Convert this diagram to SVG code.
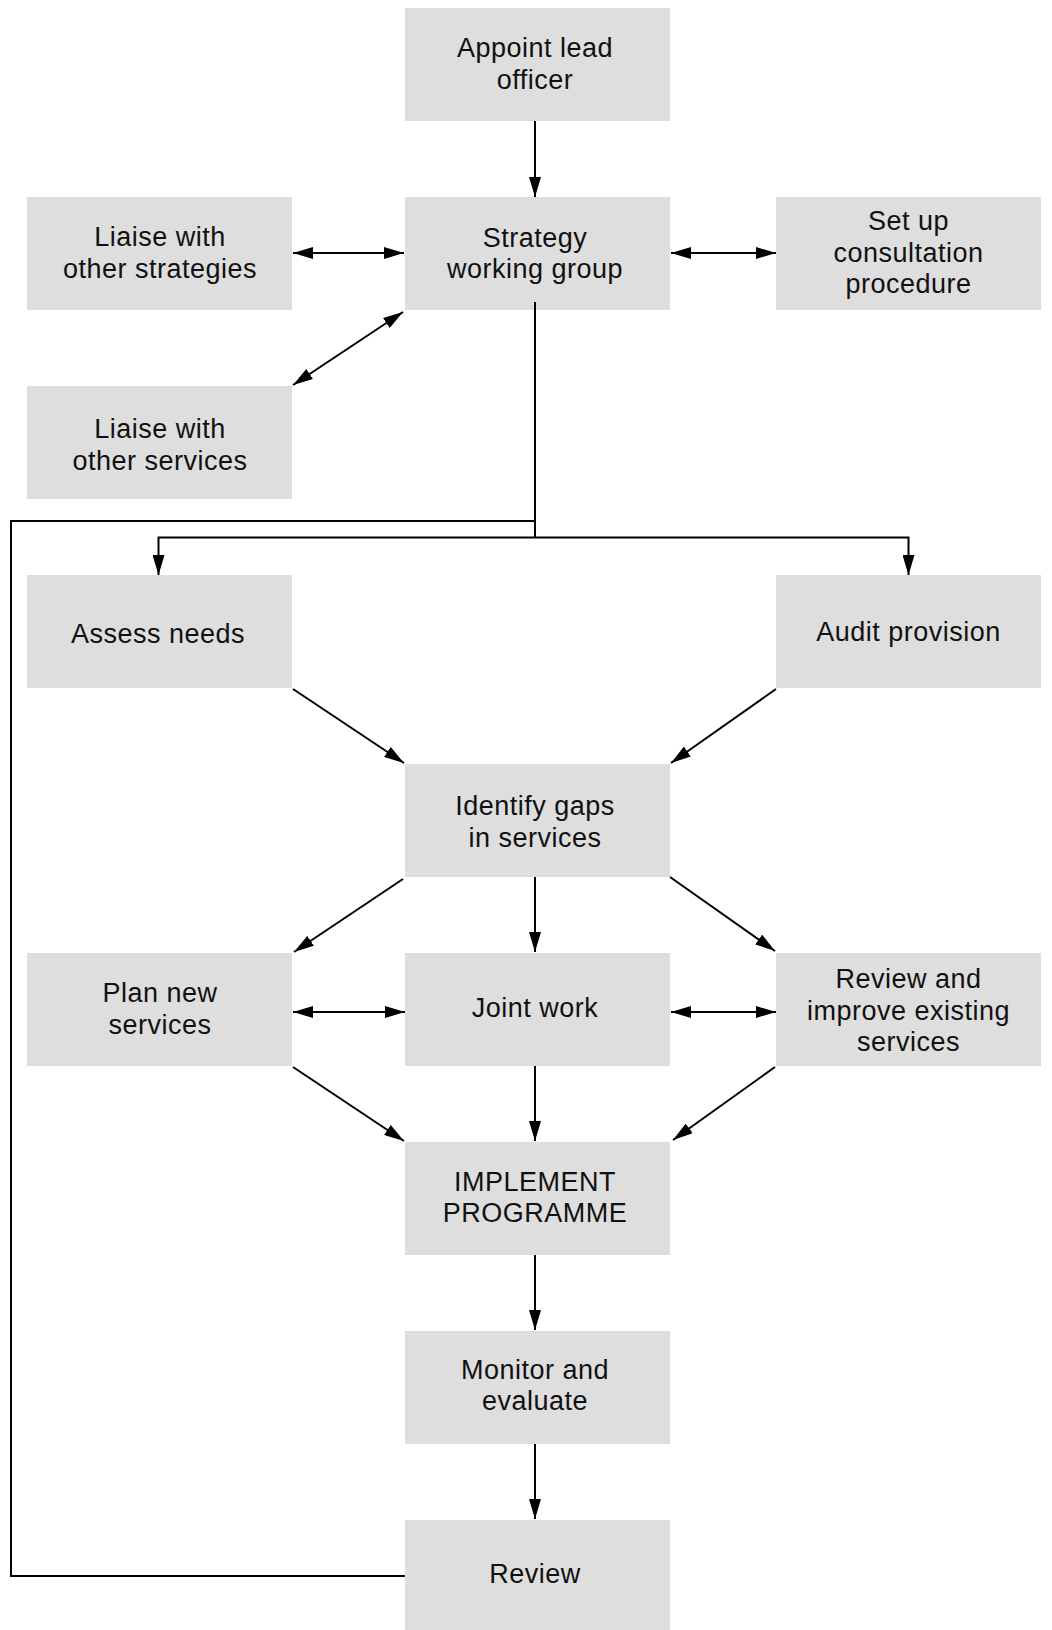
<svg xmlns="http://www.w3.org/2000/svg" width="1052" height="1630" viewBox="0 0 1052 1630">
<style>
.box{fill:#dedede}
.t{font-family:"Liberation Sans",Arial,sans-serif;font-size:27px;letter-spacing:0.5px;fill:#111;text-anchor:middle}
.c{stroke:#000;stroke-width:2;fill:none}
.a{marker-end:url(#ah)}
.d{marker-start:url(#ah);marker-end:url(#ah)}
</style>
<defs>
<marker id="ah" markerUnits="userSpaceOnUse" markerWidth="20" markerHeight="12" refX="20" refY="6" orient="auto-start-reverse" viewBox="0 0 20 12">
<path d="M0,0 L20,6 L0,12 z" fill="#000"/>
</marker>
</defs>
<rect width="1052" height="1630" fill="#fff"/>

<g id="n-appoint"><rect class="box" x="405" y="8" width="265" height="113"/><text class="t" x="535" y="57">Appoint lead</text><text class="t" x="535" y="89">officer</text></g>
<g id="n-strategy"><rect class="box" x="405" y="197" width="265" height="113"/><text class="t" x="535" y="247">Strategy</text><text class="t" x="535" y="278">working group</text></g>
<g id="n-liaise-strat"><rect class="box" x="27" y="197" width="265" height="113"/><text class="t" x="160" y="246">Liaise with</text><text class="t" x="160" y="278">other strategies</text></g>
<g id="n-setup"><rect class="box" x="776" y="197" width="265" height="113"/><text class="t" x="908.5" y="229.5">Set up</text><text class="t" x="908.5" y="261.5">consultation</text><text class="t" x="908.5" y="293">procedure</text></g>
<g id="n-liaise-serv"><rect class="box" x="27" y="386" width="265" height="113"/><text class="t" x="160" y="438">Liaise with</text><text class="t" x="160" y="469.5">other services</text></g>
<g id="n-assess"><rect class="box" x="27" y="575" width="265" height="113"/><text class="t" x="158" y="643">Assess needs</text></g>
<g id="n-audit"><rect class="box" x="776" y="575" width="265" height="113"/><text class="t" x="908.5" y="641">Audit provision</text></g>
<g id="n-identify"><rect class="box" x="405" y="764" width="265" height="113"/><text class="t" x="535" y="815">Identify gaps</text><text class="t" x="535" y="847">in services</text></g>
<g id="n-plan"><rect class="box" x="27" y="953" width="265" height="113"/><text class="t" x="160" y="1002">Plan new</text><text class="t" x="160" y="1034">services</text></g>
<g id="n-joint"><rect class="box" x="405" y="953" width="265" height="113"/><text class="t" x="535" y="1017">Joint work</text></g>
<g id="n-review-improve"><rect class="box" x="776" y="953" width="265" height="113"/><text class="t" x="908.5" y="987.5">Review and</text><text class="t" x="908.5" y="1019.5">improve existing</text><text class="t" x="908.5" y="1051">services</text></g>
<g id="n-implement"><rect class="box" x="405" y="1142" width="265" height="113"/><text class="t" x="535" y="1191">IMPLEMENT</text><text class="t" x="535" y="1222">PROGRAMME</text></g>
<g id="n-monitor"><rect class="box" x="405" y="1331" width="265" height="113"/><text class="t" x="535" y="1379">Monitor and</text><text class="t" x="535" y="1410">evaluate</text></g>
<g id="n-review"><rect class="box" x="405" y="1520" width="265" height="113"/><text class="t" x="535" y="1583">Review</text></g>

<g id="connectors">
<line class="c a" x1="535" y1="121" x2="535" y2="197"/>
<line class="c d" x1="293" y1="253" x2="404" y2="253"/>
<line class="c d" x1="671" y1="253" x2="776" y2="253"/>
<line class="c d" x1="293" y1="385" x2="403" y2="312"/>
<path class="c" d="M535,302 V537.5"/>
<path class="c a" d="M535,537.5 H158.5 V575"/>
<path class="c a" d="M535,537.5 H908.5 V575"/>
<path class="c" d="M405,1576 H11 V521 H535"/>
<line class="c a" x1="293" y1="689" x2="404" y2="763"/>
<line class="c a" x1="776" y1="689" x2="671" y2="763"/>
<line class="c a" x1="403" y1="879" x2="294" y2="952"/>
<line class="c a" x1="535" y1="877" x2="535" y2="952"/>
<line class="c a" x1="670" y1="877" x2="775" y2="951"/>
<line class="c d" x1="293" y1="1012" x2="405" y2="1012"/>
<line class="c d" x1="671" y1="1012" x2="776" y2="1012"/>
<line class="c a" x1="293" y1="1067" x2="404" y2="1141"/>
<line class="c a" x1="535" y1="1066" x2="535" y2="1141"/>
<line class="c a" x1="775" y1="1067" x2="673" y2="1140"/>
<line class="c a" x1="535" y1="1255" x2="535" y2="1330"/>
<line class="c a" x1="535" y1="1444" x2="535" y2="1519"/>
</g>
</svg>
